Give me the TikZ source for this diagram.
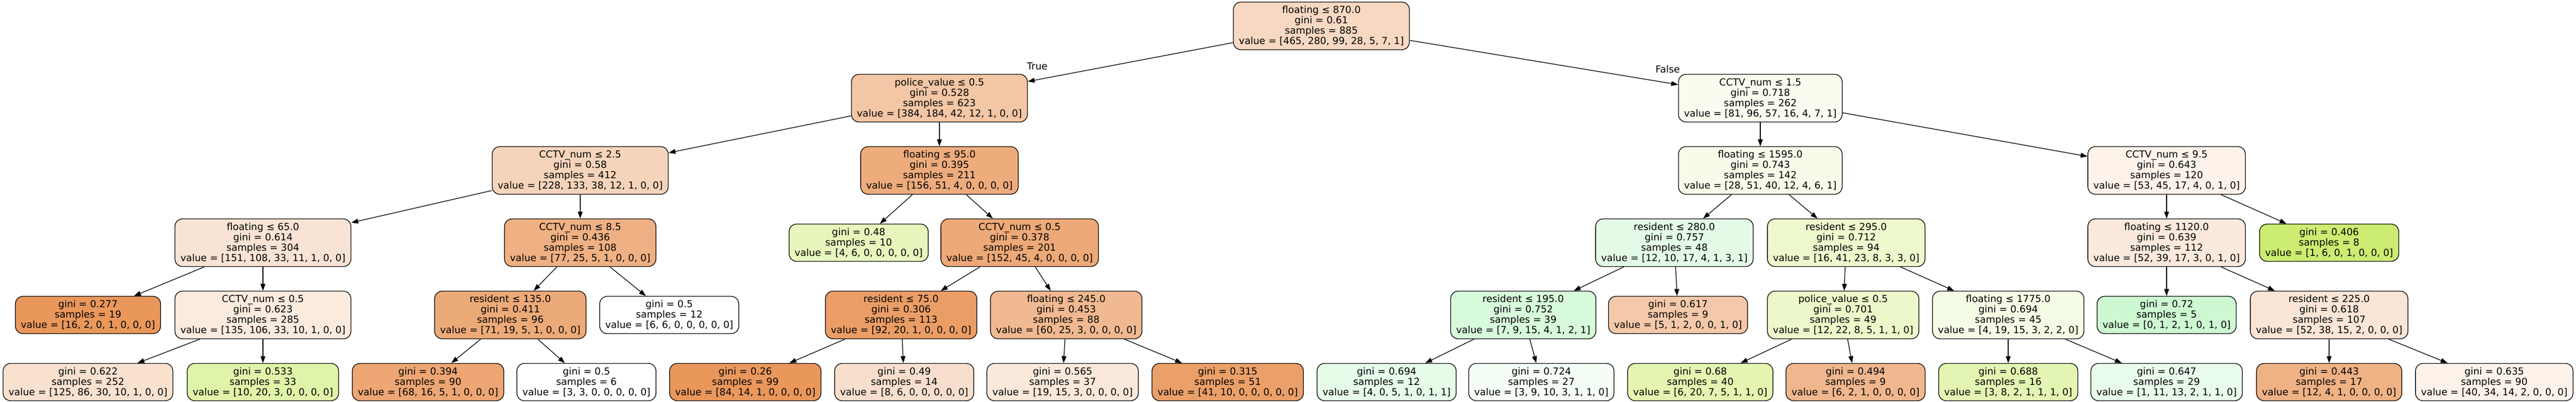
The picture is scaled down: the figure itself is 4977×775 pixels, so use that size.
\documentclass[tikz,border=0pt]{standalone}
\usepackage{fontspec}
\setmainfont{DejaVu Sans}
\usetikzlibrary{arrows.meta}
\definecolor{cA}{RGB}{229,129,57}
\definecolor{cB}{RGB}{183,229,57}
\definecolor{cC}{RGB}{57,229,77}
\tikzset{
  tn/.style={draw=black, line width=1pt, rounded corners=11pt, align=center,
    font=\fontsize{14}{15}\selectfont, inner xsep=8pt, inner ysep=0pt, minimum height=69pt},
  lf/.style={tn, minimum height=54pt},
  arr/.style={line width=1pt, -{Triangle[length=10pt,width=7pt]}},
  lbl/.style={font=\fontsize{14}{15}\selectfont, inner sep=0pt}
}
\begin{document}
\begin{tikzpicture}[x=0.75pt,y=-0.75pt]
\useasboundingbox (0,0) rectangle (4977,775);
% level 0
\node[tn, fill=cA!30.6!white] (n0) at (2553,50) {floating ≤ 870.0\\gini = 0.61\\samples = 885\\value = [465, 280, 99, 28, 5, 7, 1]};
% level 1
\node[tn, fill=cA!45.6!white] (n1) at (1815,189.5) {police\_value ≤ 0.5\\gini = 0.528\\samples = 623\\value = [384, 184, 42, 12, 1, 0, 0]};
\node[tn, fill=cB!8.3!white] (n2) at (3401,189.5) {CCTV\_num ≤ 1.5\\gini = 0.718\\samples = 262\\value = [81, 96, 57, 16, 4, 7, 1]};
% level 2
\node[tn, fill=cA!34.1!white] (n3) at (1121,329) {CCTV\_num ≤ 2.5\\gini = 0.58\\samples = 412\\value = [228, 133, 38, 12, 1, 0, 0]};
\node[tn, fill=cA!65.6!white] (n4) at (1815,329) {floating ≤ 95.0\\gini = 0.395\\samples = 211\\value = [156, 51, 4, 0, 0, 0, 0]};
\node[tn, fill=cB!10.8!white] (n5) at (3401,329) {floating ≤ 1595.0\\gini = 0.743\\samples = 142\\value = [28, 51, 40, 12, 4, 6, 1]};
\node[tn, fill=cA!10.7!white] (n6) at (4186,329) {CCTV\_num ≤ 9.5\\gini = 0.643\\samples = 120\\value = [53, 45, 17, 4, 0, 1, 0]};
% level 3
\node[tn, fill=cA!21.9!white] (n7) at (508,468.5) {floating ≤ 65.0\\gini = 0.614\\samples = 304\\value = [151, 108, 33, 11, 1, 0, 0]};
\node[tn, fill=cA!62.7!white] (n8) at (1121,468.5) {CCTV\_num ≤ 8.5\\gini = 0.436\\samples = 108\\value = [77, 25, 5, 1, 0, 0, 0]};
\node[lf, fill=cB!33.3!white] (n9) at (1659,468.5) {gini = 0.48\\samples = 10\\value = [4, 6, 0, 0, 0, 0, 0]};
\node[tn, fill=cA!68.6!white] (n10) at (1970,468.5) {CCTV\_num ≤ 0.5\\gini = 0.378\\samples = 201\\value = [152, 45, 4, 0, 0, 0, 0]};
\node[tn, fill=cC!13.9!white] (n11) at (3235,468.5) {resident ≤ 280.0\\gini = 0.757\\samples = 48\\value = [12, 10, 17, 4, 1, 3, 1]};
\node[tn, fill=cB!25.4!white] (n12) at (3567,468.5) {resident ≤ 295.0\\gini = 0.712\\samples = 94\\value = [16, 41, 23, 8, 3, 3, 0]};
\node[tn, fill=cA!17.8!white] (n13) at (4186,468.5) {floating ≤ 1120.0\\gini = 0.639\\samples = 112\\value = [52, 39, 17, 3, 0, 1, 0]};
\node[lf, fill=cB!71.4!white] (n14) at (4500,468.5) {gini = 0.406\\samples = 8\\value = [1, 6, 0, 1, 0, 0, 0]};
% level 4
\node[lf, fill=cA!82.4!white] (n15) at (170,608) {gini = 0.277\\samples = 19\\value = [16, 2, 0, 1, 0, 0, 0]};
\node[tn, fill=cA!16.2!white] (n16) at (508,608) {CCTV\_num ≤ 0.5\\gini = 0.623\\samples = 285\\value = [135, 106, 33, 10, 1, 0, 0]};
\node[tn, fill=cA!67.5!white] (n17) at (986,608) {resident ≤ 135.0\\gini = 0.411\\samples = 96\\value = [71, 19, 5, 1, 0, 0, 0]};
\node[lf, fill=white] (n18) at (1293,608) {gini = 0.5\\samples = 12\\value = [6, 6, 0, 0, 0, 0, 0]};
\node[tn, fill=cA!77.4!white] (n19) at (1741,608) {resident ≤ 75.0\\gini = 0.306\\samples = 113\\value = [92, 20, 1, 0, 0, 0, 0]};
\node[tn, fill=cA!55.6!white] (n20) at (2060,608) {floating ≤ 245.0\\gini = 0.453\\samples = 88\\value = [60, 25, 3, 0, 0, 0, 0]};
\node[tn, fill=cC!20!white] (n21) at (2943,608) {resident ≤ 195.0\\gini = 0.752\\samples = 39\\value = [7, 9, 15, 4, 1, 2, 1]};
\node[lf, fill=cA!42.9!white] (n22) at (3242,608) {gini = 0.617\\samples = 9\\value = [5, 1, 2, 0, 0, 1, 0]};
\node[tn, fill=cB!27!white] (n23) at (3561,608) {police\_value ≤ 0.5\\gini = 0.701\\samples = 49\\value = [12, 22, 8, 5, 1, 1, 0]};
\node[tn, fill=cB!13.3!white] (n24) at (3880,608) {floating ≤ 1775.0\\gini = 0.694\\samples = 45\\value = [4, 19, 15, 3, 2, 2, 0]};
\node[lf, fill=cC!25!white] (n25) at (4186,608) {gini = 0.72\\samples = 5\\value = [0, 1, 2, 1, 0, 1, 0]};
\node[tn, fill=cA!20.3!white] (n26) at (4500,608) {resident ≤ 225.0\\gini = 0.618\\samples = 107\\value = [52, 38, 15, 2, 0, 0, 0]};
% level 5
\node[lf, fill=cA!23.5!white] (n27) at (170,737.5) {gini = 0.622\\samples = 252\\value = [125, 86, 30, 10, 1, 0, 0]};
\node[lf, fill=cB!43.5!white] (n28) at (508,737.5) {gini = 0.533\\samples = 33\\value = [10, 20, 3, 0, 0, 0, 0]};
\node[lf, fill=cA!70.3!white] (n29) at (827,737.5) {gini = 0.394\\samples = 90\\value = [68, 16, 5, 1, 0, 0, 0]};
\node[lf, fill=white] (n30) at (1133,737.5) {gini = 0.5\\samples = 6\\value = [3, 3, 0, 0, 0, 0, 0]};
\node[lf, fill=cA!82.4!white] (n31) at (1440,737.5) {gini = 0.26\\samples = 99\\value = [84, 14, 1, 0, 0, 0, 0]};
\node[lf, fill=cA!25!white] (n32) at (1747,737.5) {gini = 0.49\\samples = 14\\value = [8, 6, 0, 0, 0, 0, 0]};
\node[lf, fill=cA!18.2!white] (n33) at (2053,737.5) {gini = 0.565\\samples = 37\\value = [19, 15, 3, 0, 0, 0, 0]};
\node[lf, fill=cA!75.6!white] (n34) at (2372,737.5) {gini = 0.315\\samples = 51\\value = [41, 10, 0, 0, 0, 0, 0]};
\node[lf, fill=cC!12.5!white] (n35) at (2679,737.5) {gini = 0.694\\samples = 12\\value = [4, 0, 5, 1, 0, 1, 1]};
\node[lf, fill=cC!5.6!white] (n36) at (2978,737.5) {gini = 0.724\\samples = 27\\value = [3, 9, 10, 3, 1, 1, 0]};
\node[lf, fill=cB!39.4!white] (n37) at (3285,737.5) {gini = 0.68\\samples = 40\\value = [6, 20, 7, 5, 1, 1, 0]};
\node[lf, fill=cA!57.1!white] (n38) at (3585,737.5) {gini = 0.494\\samples = 9\\value = [6, 2, 1, 0, 0, 0, 0]};
\node[lf, fill=cB!38.5!white] (n39) at (3880,737.5) {gini = 0.688\\samples = 16\\value = [3, 8, 2, 1, 1, 1, 0]};
\node[lf, fill=cC!11.1!white] (n40) at (4186,737.5) {gini = 0.647\\samples = 29\\value = [1, 11, 13, 2, 1, 1, 0]};
\node[lf, fill=cA!61.5!white] (n41) at (4500,737.5) {gini = 0.443\\samples = 17\\value = [12, 4, 1, 0, 0, 0, 0]};
\node[lf, fill=cA!10.7!white] (n42) at (4819,737.5) {gini = 0.635\\samples = 90\\value = [40, 34, 14, 2, 0, 0, 0]};
% edge labels
\node[lbl] (tT) at (2004,128) {True};
\node[lbl] (tF) at (3222,134) {False};
% edges
\foreach \p/\c in {n0/n1,n0/n2,n1/n3,n1/n4,n2/n5,n2/n6,n3/n7,n3/n8,n4/n9,n4/n10,
  n5/n11,n5/n12,n6/n13,n6/n14,n7/n15,n7/n16,n8/n17,n8/n18,n10/n19,n10/n20,
  n11/n21,n11/n22,n12/n23,n12/n24,n13/n25,n13/n26,n16/n27,n16/n28,n17/n29,n17/n30,
  n19/n31,n19/n32,n20/n33,n20/n34,n21/n35,n21/n36,n23/n37,n23/n38,n24/n39,n24/n40,
  n26/n41,n26/n42}
  \draw[arr] (\p) -- (\c);
\end{tikzpicture}
\end{document}
